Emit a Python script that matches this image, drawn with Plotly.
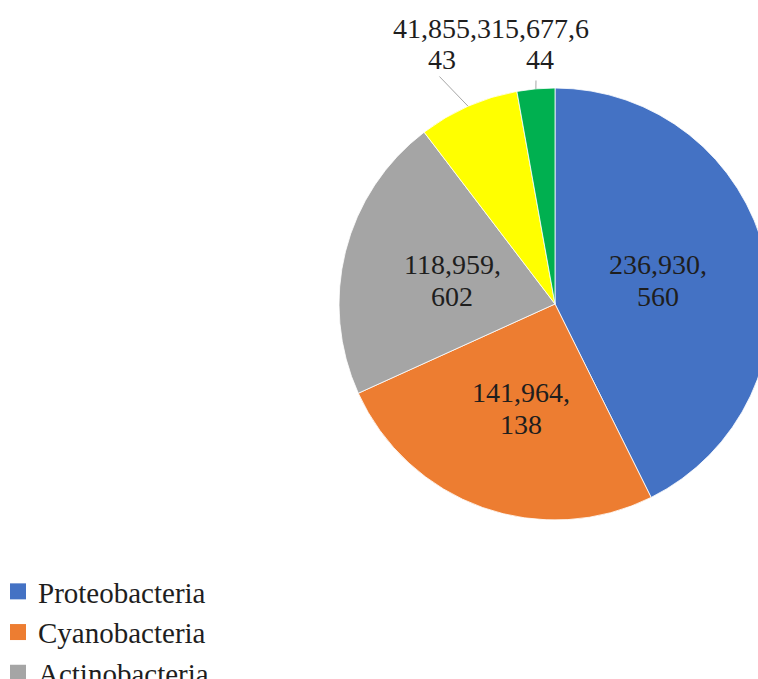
import math
import plotly.graph_objects as go

categories = ["Proteobacteria", "Cyanobacteria", "Actinobacteria", "Firmicutes", "Bacteroidetes"]
values = [236930560, 141964138, 118959602, 41855343, 15677644]
colors = ["#4472C4", "#ED7D31", "#A5A5A5", "#FFFF00", "#00B050"]

W, H = 790, 800
CX, CY, R = 555, 304, 216  # pie center / radius in pixels
FONT = "Liberation Serif"
TXT = "#1E1E1E"

# label layout (pixel centers of the first text line of each data label)
label_pos = [(658, 264), (521, 392), (452, 264), (442, 28), (540, 28)]
LINE_GAP = 32
leader_tail = {3: (438, 75), 4: (536, 79)}


def split_label(v, n=8):
    s = f"{v:,}"
    return s[:n], s[n:]


fig = go.Figure()
fig.add_trace(go.Pie(
    labels=categories,
    values=values,
    textinfo="none",
    sort=False,
    direction="clockwise",
    rotation=0,
    showlegend=False,
    marker=dict(colors=colors, line=dict(color="white", width=0.8)),
    domain=dict(x=[(CX - R) / W, (CX + R) / W], y=[1 - (CY + R) / H, 1 - (CY - R) / H]),
    hoverinfo="label+value",
))

# legend entries with larger square swatches
for name, col in zip(categories, colors):
    fig.add_trace(go.Scatter(
        x=[None], y=[None], mode="markers", name=name,
        marker=dict(symbol="square", size=16, color=col),
        hoverinfo="skip",
    ))


def px2paper(x, y):
    return x / W, 1 - y / H


# data labels, one annotation per text line
for i, v in enumerate(values):
    l1, l2 = split_label(v)
    lx, ly = label_pos[i]
    for k, t in enumerate((l1, l2)):
        px, py = px2paper(lx, ly + k * LINE_GAP)
        fig.add_annotation(
            x=px, y=py, xref="paper", yref="paper",
            text=t, showarrow=False, xanchor="center", yanchor="middle",
            font=dict(family=FONT, size=28, color=TXT),
        )

# leader lines from the outside labels to the middle of their slices
total = sum(values)
cum = sum(values[:3])
for i in (3, 4):
    mid = (cum + values[i] / 2) / total * 2 * math.pi
    cum += values[i]
    hx = CX + R * math.sin(mid)
    hy = CY - R * math.cos(mid)
    tx, ty = leader_tail[i]
    hxp, hyp = px2paper(hx, hy)
    fig.add_annotation(
        x=hxp, y=hyp, xref="paper", yref="paper",
        ax=tx - hx, ay=ty - hy, text="",
        showarrow=True, arrowhead=0, arrowwidth=1, arrowcolor="#A6A6A6",
        standoff=0, startstandoff=0,
    )

fig.update_layout(
    width=W, height=H,
    margin=dict(l=0, r=0, t=0, b=0, autoexpand=False),
    paper_bgcolor="white",
    plot_bgcolor="white",
    showlegend=True,
    xaxis=dict(visible=False),
    yaxis=dict(visible=False),
    legend=dict(
        x=-2 / W, y=1 - 566 / H, xanchor="left", yanchor="top",
        font=dict(family=FONT, size=29, color=TXT),
        tracegroupgap=0,
    ),
)

fig.write_html("out.html")
